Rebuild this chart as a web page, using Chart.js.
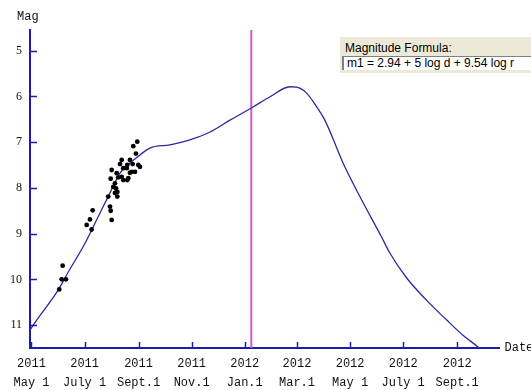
<!DOCTYPE html>
<html>
<head>
<meta charset="utf-8">
<script src="https://cdn.jsdelivr.net/npm/chart.js@4/dist/chart.umd.min.js"></script>
<style>
  html, body { margin: 0; padding: 0; background: #ffffff; }
  #wrap { position: relative; width: 531px; height: 390px; overflow: hidden; }
  #c { position: absolute; left: 0; top: 0; }
  #panel { position: absolute; left: 340px; top: 37px; width: 200px; height: 36px; background: #ece9d8; }
  #panel .lbl { position: absolute; left: 5px; top: 4px; font: 12px "Liberation Sans", Arial, sans-serif; color: #000; white-space: nowrap; }
  #panel .box { position: absolute; left: 2px; top: 19px; width: 196px; height: 14px; background: #fff;
                border-left: 2px solid #808080; border-top: 1px solid #808080; box-sizing: border-box;
                font: 12px "Liberation Sans", Arial, sans-serif; color: #000; white-space: nowrap; line-height: 13px; padding-left: 3px; }
</style>
</head>
<body>
<div id="wrap">
  <canvas id="c" width="531" height="390"></canvas>
  <div id="panel"><div class="lbl">Magnitude Formula:</div><div class="box">m1 = 2.94 + 5 log d + 9.54 log r</div></div>
</div>
<script>
// Days are counted from 2011 May 1 (day 0)
const tickDays  = [0, 61, 123, 184, 245, 305, 366, 427, 489];
const tickYears = ["2011", "2011", "2011", "2011", "2012", "2012", "2012", "2012", "2012"];
const tickMonths = ["May 1", "July 1", "Sept.1", "Nov.1", "Jan.1", "Mar.1", "May 1", "July 1", "Sept.1"];
const magTicks = [5, 6, 7, 8, 9, 10, 11];

// Predicted light curve (model)
const curveDays = [-2, 2, 30.8, 42.3, 61.5, 78.7, 90.2, 101.7, 113, 124.6, 136, 159, 182, 205, 228, 253, 274, 297, 304.6, 316, 327.6, 337, 358, 377.5, 402, 411.8, 431, 454, 477, 495.6, 513, 520];
const curveMags = [11.12, 11.0, 10.23, 9.84, 9.21, 8.55, 8.11, 7.68, 7.46, 7.28, 7.13, 7.06, 6.95, 6.78, 6.52, 6.25, 6.01, 5.79, 5.80, 5.93, 6.23, 6.52, 7.46, 8.2, 9.07, 9.43, 9.97, 10.46, 10.89, 11.22, 11.48, 11.6];

// Observations
const obsDays = [121.5, 116.9, 120, 103.6, 113.1, 101.7, 110, 116.2, 122.7, 124.6, 105.4, 115.1, 118.9, 92.1, 97.9, 103.6, 99.7, 91, 105.4, 110, 95.9, 94, 97.1, 98.6, 95.9, 88.2, 98.6, 90.2, 91, 92.1, 70.3, 67.2, 63.4, 69.1, 35.8, 34.7, 39.6, 31.9, 109.4, 113.1, 111.2];
const obsMags = [6.99, 7.09, 7.25, 7.39, 7.39, 7.48, 7.50, 7.48, 7.50, 7.54, 7.57, 7.65, 7.65, 7.61, 7.68, 7.76, 7.77, 7.80, 7.83, 7.83, 7.90, 7.98, 8.01, 8.09, 8.11, 8.19, 8.19, 8.41, 8.50, 8.70, 8.49, 8.69, 8.81, 8.91, 9.70, 10.0, 10.0, 10.22, 7.57, 7.67, 7.79];

// Current date marker
const markerDay = 252.5;

const AXIS = '#1c1cb0';
const TEXT = '#111111';

const curveData = curveDays.map((d, i) => ({ x: d, y: curveMags[i] }));
const obsData = obsDays.map((d, i) => ({ x: d, y: obsMags[i] }));
const markerData = [{ x: markerDay, y: 4.55 }, { x: markerDay, y: 11.5 }];

const innerTicks = {
  id: 'innerTicks',
  afterDraw(chart) {
    const { ctx, chartArea, scales } = chart;
    const xs = scales.x, ys = scales.y;
    ctx.save();
    ctx.strokeStyle = AXIS;
    ctx.lineWidth = 1.5;
    tickDays.forEach(d => {
      const px = Math.round(xs.getPixelForValue(d)) + 0.5;
      ctx.beginPath(); ctx.moveTo(px, chartArea.bottom); ctx.lineTo(px, chartArea.bottom - 6); ctx.stroke();
    });
    magTicks.forEach(m => {
      const py = Math.round(ys.getPixelForValue(m)) + 0.5;
      ctx.beginPath(); ctx.moveTo(chartArea.left, py); ctx.lineTo(chartArea.left + 7, py); ctx.stroke();
    });
    ctx.fillStyle = TEXT;
    ctx.font = '12px "Liberation Mono", monospace';
    ctx.textBaseline = 'middle';
    ctx.textAlign = 'left';
    ctx.fillText('Mag', 17, 17);
    ctx.fillText('Date', chartArea.right + 5, chartArea.bottom);
    ctx.restore();
  }
};

new Chart(document.getElementById('c'), {
  type: 'scatter',
  data: {
    datasets: [
      { type: 'line', data: markerData, borderColor: '#cc5ccc', borderWidth: 2, pointRadius: 0, order: 3 },
      { type: 'line', data: curveData, borderColor: '#2a2aa0', borderWidth: 1.3, pointRadius: 0,
        cubicInterpolationMode: 'monotone', order: 2 },
      { type: 'scatter', data: obsData, backgroundColor: '#000', borderColor: '#000', pointRadius: 2.4, borderWidth: 0, order: 1 }
    ]
  },
  options: {
    responsive: false,
    animation: false,
    events: [],
    layout: { padding: { top: 30, right: 31.5, left: 0, bottom: 0 } },
    plugins: { legend: { display: false }, tooltip: { enabled: false }, title: { display: false } },
    scales: {
      x: {
        type: 'linear', min: -1.7, max: 537.6,
        grid: { display: false, drawTicks: false },
        border: { display: true, color: AXIS, width: 2 },
        afterBuildTicks: (s) => { s.ticks = tickDays.map(v => ({ value: v })); },
        afterFit: (s) => { s.height = 42; },
        ticks: {
          autoSkip: false, maxRotation: 0, minRotation: 0, padding: 7, color: TEXT,
          font: { family: '"Liberation Mono", monospace', size: 12, lineHeight: 1.55 },
          callback: (v) => { const i = tickDays.indexOf(v); return i >= 0 ? [tickYears[i], tickMonths[i]] : ''; }
        }
      },
      y: {
        type: 'linear', reverse: true, min: 4.55, max: 11.5,
        grid: { display: false, drawTicks: false },
        border: { display: true, color: AXIS, width: 2 },
        afterBuildTicks: (s) => { s.ticks = magTicks.map(v => ({ value: v })); },
        afterFit: (s) => { s.width = 30; },
        ticks: {
          padding: 8, color: TEXT,
          font: { family: '"Liberation Serif", serif', size: 12 }
        }
      }
    }
  },
  plugins: [innerTicks]
});
</script>
</body>
</html>
